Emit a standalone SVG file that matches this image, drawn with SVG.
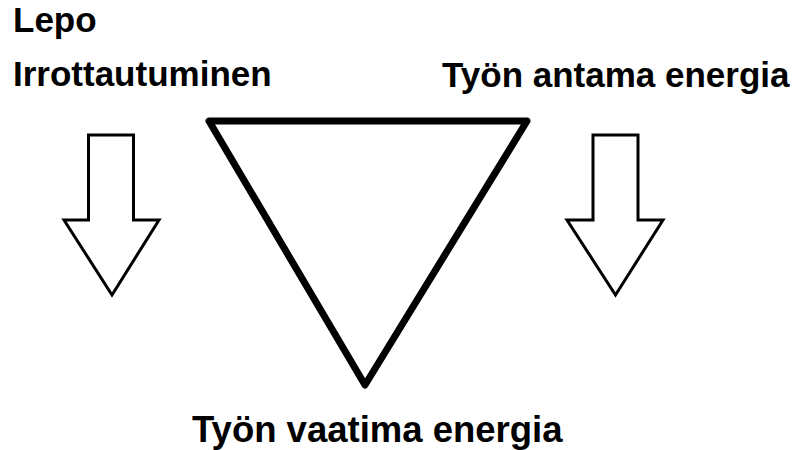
<svg xmlns="http://www.w3.org/2000/svg" width="808" height="450" viewBox="0 0 808 450">
<style>
text{font-family:"Liberation Sans",Arial,sans-serif;font-weight:bold;fill:#000}
.arrow{fill:#fff;stroke:#000;stroke-width:3;stroke-linejoin:miter}
.tri{fill:#fff;stroke:#000;stroke-width:7;stroke-linejoin:round}
</style>
<rect width="808" height="450" fill="#fff"/>
<g id="labels">
<text x="13" y="32" font-size="35">Lepo</text>
<text x="13" y="86" font-size="35">Irrottautuminen</text>
<text x="442" y="87" font-size="35">Työn antama energia</text>
<text x="192" y="442" font-size="36.5">Työn vaatima energia</text>
</g>
<g id="triangle">
<polygon class="tri" points="209,121 527,121 365,385"/>
</g>
<g id="arrow-left">
<polygon class="arrow" points="88.5,135 133.5,135 133.5,220 159,220 112,295 64,220 88.5,220"/>
</g>
<g id="arrow-right">
<polygon class="arrow" points="593,135 638,135 638,220 663,220 615.5,295 567,220 593,220"/>
</g>
</svg>
